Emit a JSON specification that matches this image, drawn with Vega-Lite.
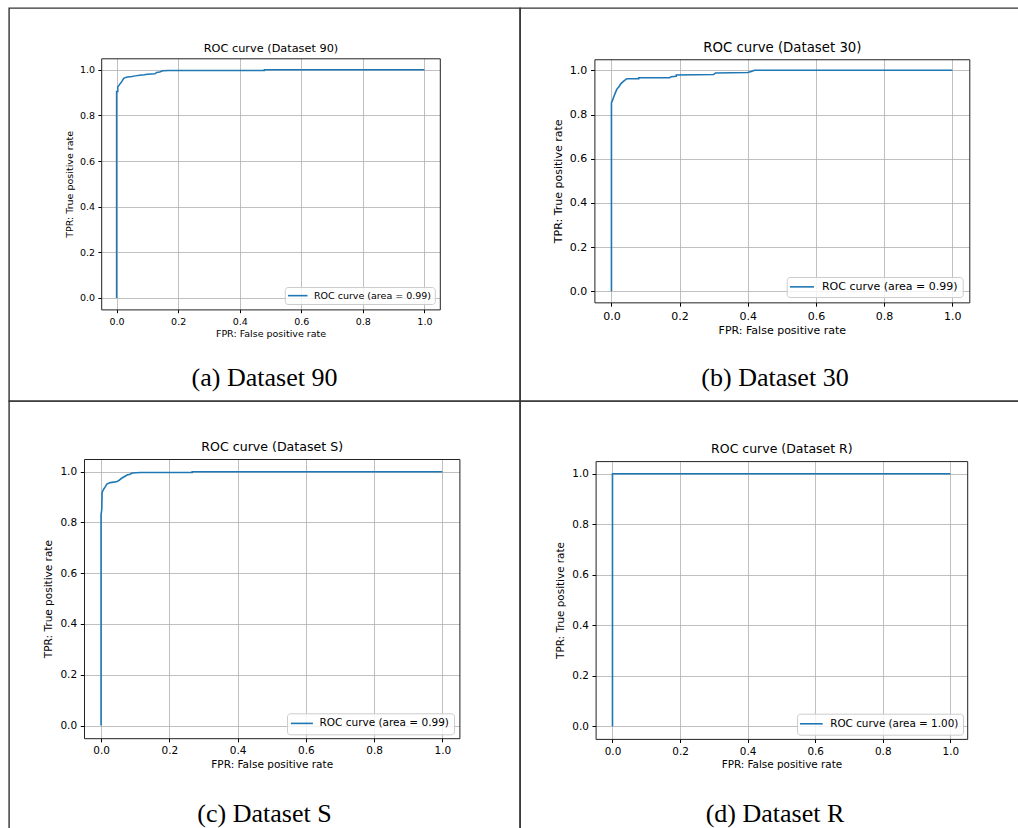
{
  "$schema": "https://vega.github.io/schema/vega-lite/v6.json",
  "background": "white",
  "padding": {"left": 8, "top": 7, "right": 0, "bottom": 0},
  "spacing": 0,
  "bounds": "flush",
  "columns": 2,
  "resolve": {"scale": {"x": "independent", "y": "independent", "color": "independent"}, "axis": {"x": "independent", "y": "independent"}, "legend": {"color": "independent"}},
  "concat": [
        {
          "width": 511,
          "height": 393,
          "title": {"text": "(a) Dataset 90", "orient": "bottom", "anchor": "middle", "frame": "group", "offset": -23.3, "baseline": "middle", "font": "Liberation Serif", "fontSize": 26, "fontWeight": "normal", "color": "#000"},
          "data": {"values": [
            {"i": 0, "fpr": 0, "tpr": 0}, {"i": 1, "fpr": 0, "tpr": 0.905}, {"i": 2, "fpr": 0.004, "tpr": 0.905},
            {"i": 3, "fpr": 0.004, "tpr": 0.925}, {"i": 4, "fpr": 0.008, "tpr": 0.932}, {"i": 5, "fpr": 0.012, "tpr": 0.94},
            {"i": 6, "fpr": 0.016, "tpr": 0.946}, {"i": 7, "fpr": 0.02, "tpr": 0.955}, {"i": 8, "fpr": 0.024, "tpr": 0.963},
            {"i": 9, "fpr": 0.035, "tpr": 0.968}, {"i": 10, "fpr": 0.05, "tpr": 0.97}, {"i": 11, "fpr": 0.06, "tpr": 0.973},
            {"i": 12, "fpr": 0.075, "tpr": 0.976}, {"i": 13, "fpr": 0.09, "tpr": 0.978}, {"i": 14, "fpr": 0.1, "tpr": 0.98},
            {"i": 15, "fpr": 0.125, "tpr": 0.982}, {"i": 16, "fpr": 0.13, "tpr": 0.988}, {"i": 17, "fpr": 0.14, "tpr": 0.99},
            {"i": 18, "fpr": 0.15, "tpr": 0.995}, {"i": 19, "fpr": 0.17, "tpr": 0.997}, {"i": 20, "fpr": 0.48, "tpr": 0.997},
            {"i": 21, "fpr": 0.48, "tpr": 1.0}, {"i": 22, "fpr": 1, "tpr": 1}
          ]},
          "layer": [
            {
              "mark": {"type": "line", "strokeWidth": 1.5},
              "encoding": {
                "order": {"field": "i", "type": "quantitative"},
                "x": {"field": "fpr", "type": "quantitative",
                  "scale": {"domain": [-0.05, 1.05], "range": [92.2, 430.8], "nice": false, "zero": false},
                  "axis": {"orient": "bottom", "offset": -91.6, "values": [0, 0.2, 0.4, 0.6, 0.8, 1], "format": ".1f", "grid": false, "title": "FPR: False positive rate", "titleFontSize": 9.5, "titlePadding": 3, "labelFontSize": 9.5, "labelPadding": 3.3, "tickSize": 3.3}},
                "y": {"field": "tpr", "type": "quantitative",
                  "scale": {"domain": [-0.05, 1.05], "range": [301.4, 50.3], "nice": false, "zero": false},
                  "axis": {"orient": "left", "offset": -92.2, "values": [0, 0.2, 0.4, 0.6, 0.8, 1], "format": ".1f", "title": "TPR: True positive rate", "titleFontSize": 9.5, "titlePadding": 5, "labelFontSize": 9.5, "labelPadding": 3.3, "tickSize": 3.3}},
                "color": {"datum": "ROC curve (area = 0.99)", "type": "nominal", "scale": {"range": ["#1f77b4"]},
                  "legend": {"orient": "none", "legendX": 275.8, "legendY": 279, "title": null, "labelFontSize": 9.5, "padding": 3.65, "symbolType": "M-1.4,0H3.6", "symbolSize": 61, "labelOffset": 15.5}}
              }
            },
            {
              "mark": {"type": "line", "strokeOpacity": 0},
              "encoding": {
                "order": {"field": "i", "type": "quantitative"},
                "x": {"field": "fpr", "type": "quantitative",
                  "scale": {"domain": [-0.05, 1.05], "range": [92.2, 430.8], "nice": false, "zero": false},
                  "axis": {"orient": "top", "offset": -50.3, "values": [0, 0.2, 0.4, 0.6, 0.8, 1], "title": "ROC curve (Dataset 90)", "titleFontSize": 11.3, "titlePadding": 4.8, "labels": false, "ticks": false, "grid": true}},
                "y": {"field": "tpr", "type": "quantitative",
                  "scale": {"domain": [-0.05, 1.05], "range": [301.4, 50.3], "nice": false, "zero": false},
                  "axis": {"orient": "right", "offset": -80.2, "title": null, "labels": false, "ticks": false, "grid": false}}
              }
            }
          ],
          "resolve": {"axis": {"x": "independent", "y": "independent"}}
        },
        {
          "width": 499,
          "height": 393,
          "title": {"text": "(b) Dataset 30", "orient": "bottom", "anchor": "middle", "frame": "group", "offset": -23.3, "dx": 5.5, "baseline": "middle", "font": "Liberation Serif", "fontSize": 26, "fontWeight": "normal", "color": "#000"},
          "data": {"values": [
            {"i": 0, "fpr": 0, "tpr": 0}, {"i": 1, "fpr": 0, "tpr": 0.852}, {"i": 2, "fpr": 0.004, "tpr": 0.868},
            {"i": 3, "fpr": 0.008, "tpr": 0.885}, {"i": 4, "fpr": 0.012, "tpr": 0.9}, {"i": 5, "fpr": 0.016, "tpr": 0.915},
            {"i": 6, "fpr": 0.022, "tpr": 0.926}, {"i": 7, "fpr": 0.028, "tpr": 0.94}, {"i": 8, "fpr": 0.035, "tpr": 0.95},
            {"i": 9, "fpr": 0.045, "tpr": 0.962}, {"i": 10, "fpr": 0.08, "tpr": 0.962}, {"i": 11, "fpr": 0.08, "tpr": 0.966},
            {"i": 12, "fpr": 0.17, "tpr": 0.966}, {"i": 13, "fpr": 0.175, "tpr": 0.971}, {"i": 14, "fpr": 0.19, "tpr": 0.973},
            {"i": 15, "fpr": 0.19, "tpr": 0.979}, {"i": 16, "fpr": 0.3, "tpr": 0.981}, {"i": 17, "fpr": 0.305, "tpr": 0.988},
            {"i": 18, "fpr": 0.4, "tpr": 0.99}, {"i": 19, "fpr": 0.41, "tpr": 0.995}, {"i": 20, "fpr": 0.42, "tpr": 1.0},
            {"i": 21, "fpr": 1, "tpr": 1}
          ]},
          "layer": [
            {
              "mark": {"type": "line", "strokeWidth": 1.6},
              "encoding": {
                "order": {"field": "i", "type": "quantitative"},
                "x": {"field": "fpr", "type": "quantitative",
                  "scale": {"domain": [-0.05, 1.05], "range": [74.4, 449.3], "nice": false, "zero": false},
                  "axis": {"orient": "bottom", "offset": -98.65, "values": [0, 0.2, 0.4, 0.6, 0.8, 1], "format": ".1f", "grid": false, "title": "FPR: False positive rate", "titleFontSize": 11, "titlePadding": 3.7, "labelFontSize": 11, "labelPadding": 3.85, "tickSize": 3.85}},
                "y": {"field": "tpr", "type": "quantitative",
                  "scale": {"domain": [-0.05, 1.05], "range": [294.35, 51.25], "nice": false, "zero": false},
                  "axis": {"orient": "left", "offset": -74.4, "values": [0, 0.2, 0.4, 0.6, 0.8, 1], "format": ".1f", "title": "TPR: True positive rate", "titleFontSize": 11, "titlePadding": 6, "labelFontSize": 11, "labelPadding": 3.85, "tickSize": 3.85}},
                "color": {"datum": "ROC curve (area = 0.99)", "type": "nominal", "scale": {"range": ["#1f77b4"]},
                  "legend": {"orient": "none", "legendX": 266.7, "legendY": 269, "title": null, "labelFontSize": 11, "padding": 4.35, "symbolType": "M-1.47,0H3.87", "symbolSize": 81, "labelOffset": 19.9}}
              }
            },
            {
              "mark": {"type": "line", "strokeOpacity": 0},
              "encoding": {
                "order": {"field": "i", "type": "quantitative"},
                "x": {"field": "fpr", "type": "quantitative",
                  "scale": {"domain": [-0.05, 1.05], "range": [74.4, 449.3], "nice": false, "zero": false},
                  "axis": {"orient": "top", "offset": -51.25, "values": [0, 0.2, 0.4, 0.6, 0.8, 1], "title": "ROC curve (Dataset 30)", "titleFontSize": 13.3, "titlePadding": 5, "labels": false, "ticks": false, "grid": true}},
                "y": {"field": "tpr", "type": "quantitative",
                  "scale": {"domain": [-0.05, 1.05], "range": [294.35, 51.25], "nice": false, "zero": false},
                  "axis": {"orient": "right", "offset": -49.7, "title": null, "labels": false, "ticks": false, "grid": false}}
              }
            }
          ],
          "resolve": {"axis": {"x": "independent", "y": "independent"}}
        },
        {
          "width": 511,
          "height": 428,
          "title": {"text": "(c) Dataset S", "orient": "bottom", "anchor": "middle", "frame": "group", "offset": -15, "baseline": "middle", "font": "Liberation Serif", "fontSize": 26, "fontWeight": "normal", "color": "#000"},
          "data": {"values": [
            {"i": 0, "fpr": 0, "tpr": 0}, {"i": 1, "fpr": 0, "tpr": 0.83}, {"i": 2, "fpr": 0.002, "tpr": 0.85},
            {"i": 3, "fpr": 0.003, "tpr": 0.918}, {"i": 4, "fpr": 0.008, "tpr": 0.932}, {"i": 5, "fpr": 0.012, "tpr": 0.94},
            {"i": 6, "fpr": 0.017, "tpr": 0.951}, {"i": 7, "fpr": 0.027, "tpr": 0.957}, {"i": 8, "fpr": 0.045, "tpr": 0.96},
            {"i": 9, "fpr": 0.052, "tpr": 0.965}, {"i": 10, "fpr": 0.061, "tpr": 0.975}, {"i": 11, "fpr": 0.068, "tpr": 0.98},
            {"i": 12, "fpr": 0.076, "tpr": 0.987}, {"i": 13, "fpr": 0.085, "tpr": 0.99}, {"i": 14, "fpr": 0.091, "tpr": 0.995},
            {"i": 15, "fpr": 0.115, "tpr": 0.997}, {"i": 16, "fpr": 0.267, "tpr": 0.997}, {"i": 17, "fpr": 0.267, "tpr": 1.0},
            {"i": 18, "fpr": 1, "tpr": 1}
          ]},
          "layer": [
            {
              "mark": {"type": "line", "strokeWidth": 1.6},
              "encoding": {
                "order": {"field": "i", "type": "quantitative"},
                "x": {"field": "fpr", "type": "quantitative",
                  "scale": {"domain": [-0.05, 1.05], "range": [75, 450.4], "nice": false, "zero": false},
                  "axis": {"orient": "bottom", "offset": -90.8, "values": [0, 0.2, 0.4, 0.6, 0.8, 1], "format": ".1f", "grid": false, "title": "FPR: False positive rate", "titleFontSize": 10.5, "titlePadding": 3, "labelFontSize": 10.5, "labelPadding": 3.7, "tickSize": 3.7}},
                "y": {"field": "tpr", "type": "quantitative",
                  "scale": {"domain": [-0.05, 1.05], "range": [337.2, 58.0], "nice": false, "zero": false},
                  "axis": {"orient": "left", "offset": -75, "values": [0, 0.2, 0.4, 0.6, 0.8, 1], "format": ".1f", "title": "TPR: True positive rate", "titleFontSize": 10.5, "titlePadding": 6, "labelFontSize": 10.5, "labelPadding": 3.7, "tickSize": 3.7}},
                "color": {"datum": "ROC curve (area = 0.99)", "type": "nominal", "scale": {"range": ["#1f77b4"]},
                  "legend": {"orient": "none", "legendX": 278, "legendY": 312.3, "title": null, "labelFontSize": 10.5, "padding": 4.6, "symbolType": "M-1.47,0H3.73", "symbolSize": 72, "labelOffset": 16.9}}
              }
            },
            {
              "mark": {"type": "line", "strokeOpacity": 0},
              "encoding": {
                "order": {"field": "i", "type": "quantitative"},
                "x": {"field": "fpr", "type": "quantitative",
                  "scale": {"domain": [-0.05, 1.05], "range": [75, 450.4], "nice": false, "zero": false},
                  "axis": {"orient": "top", "offset": -58, "values": [0, 0.2, 0.4, 0.6, 0.8, 1], "title": "ROC curve (Dataset S)", "titleFontSize": 12.6, "titlePadding": 5.5, "labels": false, "ticks": false, "grid": true}},
                "y": {"field": "tpr", "type": "quantitative",
                  "scale": {"domain": [-0.05, 1.05], "range": [337.2, 58.0], "nice": false, "zero": false},
                  "axis": {"orient": "right", "offset": -60.6, "title": null, "labels": false, "ticks": false, "grid": false}}
              }
            }
          ],
          "resolve": {"axis": {"x": "independent", "y": "independent"}}
        },
        {
          "width": 499,
          "height": 428,
          "title": {"text": "(d) Dataset R", "orient": "bottom", "anchor": "middle", "frame": "group", "offset": -15, "dx": 5.5, "baseline": "middle", "font": "Liberation Serif", "fontSize": 26, "fontWeight": "normal", "color": "#000"},
          "data": {"values": [
            {"i": 0, "fpr": 0, "tpr": 0}, {"i": 1, "fpr": 0, "tpr": 1}, {"i": 2, "fpr": 1, "tpr": 1}
          ]},
          "layer": [
            {
              "mark": {"type": "line", "strokeWidth": 1.6},
              "encoding": {
                "order": {"field": "i", "type": "quantitative"},
                "x": {"field": "fpr", "type": "quantitative",
                  "scale": {"domain": [-0.05, 1.05], "range": [75.6, 447.2], "nice": false, "zero": false},
                  "axis": {"orient": "bottom", "offset": -90.1, "values": [0, 0.2, 0.4, 0.6, 0.8, 1], "format": ".1f", "grid": false, "title": "FPR: False positive rate", "titleFontSize": 10.4, "titlePadding": 3, "labelFontSize": 10.4, "labelPadding": 3.6, "tickSize": 3.6}},
                "y": {"field": "tpr", "type": "quantitative",
                  "scale": {"domain": [-0.05, 1.05], "range": [337.9, 60.1], "nice": false, "zero": false},
                  "axis": {"orient": "left", "offset": -75.6, "values": [0, 0.2, 0.4, 0.6, 0.8, 1], "format": ".1f", "title": "TPR: True positive rate", "titleFontSize": 10.4, "titlePadding": 6, "labelFontSize": 10.4, "labelPadding": 3.6, "tickSize": 3.6}},
                "color": {"datum": "ROC curve (area = 1.00)", "type": "nominal", "scale": {"range": ["#1f77b4"]},
                  "legend": {"orient": "none", "legendX": 277, "legendY": 312.7, "title": null, "labelFontSize": 10.4, "padding": 4.6, "symbolType": "M-1.67,0H3.67", "symbolSize": 72, "labelOffset": 17.6}}
              }
            },
            {
              "mark": {"type": "line", "strokeOpacity": 0},
              "encoding": {
                "order": {"field": "i", "type": "quantitative"},
                "x": {"field": "fpr", "type": "quantitative",
                  "scale": {"domain": [-0.05, 1.05], "range": [75.6, 447.2], "nice": false, "zero": false},
                  "axis": {"orient": "top", "offset": -60.1, "values": [0, 0.2, 0.4, 0.6, 0.8, 1], "title": "ROC curve (Dataset R)", "titleFontSize": 12.5, "titlePadding": 5.3, "labels": false, "ticks": false, "grid": true}},
                "y": {"field": "tpr", "type": "quantitative",
                  "scale": {"domain": [-0.05, 1.05], "range": [337.9, 60.1], "nice": false, "zero": false},
                  "axis": {"orient": "right", "offset": -51.8, "title": null, "labels": false, "ticks": false, "grid": false}}
              }
            }
          ],
          "resolve": {"axis": {"x": "independent", "y": "independent"}}
        }
  ],
  "config": {
    "view": {"stroke": "#333333", "strokeWidth": 1.4},
    "font": "DejaVu Sans",
    "axis": {
      "labelFont": "DejaVu Sans", "titleFont": "DejaVu Sans", "labelColor": "#000", "titleColor": "#000",
      "titleFontWeight": "normal", "tickColor": "#000", "domainColor": "#222", "domainWidth": 1, "tickWidth": 1,
      "gridColor": "#b0b0b0", "gridWidth": 0.8, "gridOpacity": 1, "labelFlush": false, "labelOverlap": false, "labelBound": false
    },
    "legend": {
      "labelFont": "DejaVu Sans", "labelColor": "#000", "strokeColor": "#cccccc", "fillColor": "rgba(255,255,255,0.8)",
      "cornerRadius": 3, "symbolStrokeWidth": 1.6
    },
    "line": {"color": "#1f77b4"}
  }
}
